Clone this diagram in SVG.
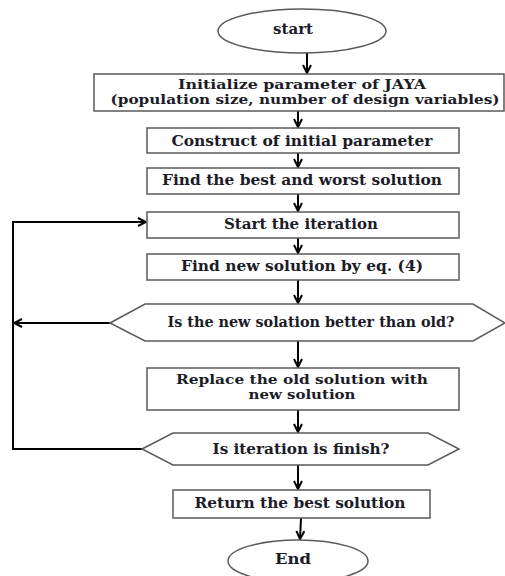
<svg xmlns="http://www.w3.org/2000/svg" width="505" height="576" viewBox="0 0 505 576">
<defs>
<style>
.shape{fill:#fff;stroke:#5a5a5a;stroke-width:1.5}
.t{font-family:"DejaVu Serif","Liberation Serif",serif;font-weight:bold;font-size:14px;fill:#1c1c28;text-anchor:middle}
.t2{font-size:12px}
.c{fill:none;stroke:#000;stroke-width:2}
</style>
<marker id="ah" viewBox="0 0 10 10" refX="9" refY="5" markerWidth="10" markerHeight="10" markerUnits="userSpaceOnUse" orient="auto">
<path d="M1,1 L9,5 L1,9" fill="none" stroke="#000" stroke-width="2"/>
</marker>
</defs>
<rect width="505" height="576" fill="#fff"/>
<g id="connectors">
<line class="c" x1="307" y1="53" x2="307" y2="73" marker-end="url(#ah)"/>
<line class="c" x1="298" y1="111" x2="298" y2="127" marker-end="url(#ah)"/>
<line class="c" x1="298" y1="153" x2="298" y2="167" marker-end="url(#ah)"/>
<line class="c" x1="298" y1="194" x2="298" y2="211" marker-end="url(#ah)"/>
<line class="c" x1="298" y1="238" x2="298" y2="253" marker-end="url(#ah)"/>
<line class="c" x1="298" y1="280" x2="298" y2="303" marker-end="url(#ah)"/>
<line class="c" x1="298" y1="341" x2="298" y2="367" marker-end="url(#ah)"/>
<line class="c" x1="298" y1="410" x2="298" y2="432" marker-end="url(#ah)"/>
<line class="c" x1="298" y1="465" x2="298" y2="489" marker-end="url(#ah)"/>
<line class="c" x1="301" y1="518" x2="300" y2="539" marker-end="url(#ah)"/>
<polyline class="c" points="142,449 13,449 13,222 146,222" marker-end="url(#ah)"/>
<line class="c" x1="110" y1="323" x2="14" y2="323" marker-end="url(#ah)"/>
</g>
<g id="start">
<ellipse class="shape" cx="302" cy="31" rx="84" ry="22"/>
<text class="t" x="293" y="34" textLength="40" lengthAdjust="spacingAndGlyphs">start</text>
</g>
<g id="init">
<rect class="shape" x="94" y="74" width="410" height="37"/>
<text class="t t2" x="302" y="89" textLength="248" lengthAdjust="spacingAndGlyphs">Initialize parameter of JAYA</text>
<text class="t t2" x="305" y="104" textLength="389" lengthAdjust="spacingAndGlyphs">(population size, number of design variables)</text>
</g>
<g id="construct">
<rect class="shape" x="147" y="128" width="312" height="25"/>
<text class="t" x="302" y="146" textLength="261" lengthAdjust="spacingAndGlyphs">Construct of initial  parameter</text>
</g>
<g id="findbest">
<rect class="shape" x="147" y="168" width="312" height="26"/>
<text class="t" x="302" y="185" textLength="280" lengthAdjust="spacingAndGlyphs">Find the best and worst solution</text>
</g>
<g id="startiter">
<rect class="shape" x="147" y="212" width="312" height="26"/>
<text class="t" x="301" y="229" textLength="154" lengthAdjust="spacingAndGlyphs">Start the iteration</text>
</g>
<g id="findnew">
<rect class="shape" x="147" y="254" width="312" height="26"/>
<text class="t" x="302" y="271" textLength="242" lengthAdjust="spacingAndGlyphs">Find new solution by eq. (4)</text>
</g>
<g id="decision1">
<polygon class="shape" points="110,323 145,304 473,304 505,323 473,341 145,341"/>
<text class="t" x="311" y="327" textLength="287" lengthAdjust="spacingAndGlyphs">Is the new solation better than old?</text>
</g>
<g id="replace">
<rect class="shape" x="147" y="368" width="312" height="42"/>
<text class="t t2" x="302" y="384" textLength="252" lengthAdjust="spacingAndGlyphs">Replace the old solution with</text>
<text class="t t2" x="302" y="399" textLength="107" lengthAdjust="spacingAndGlyphs">new solution</text>
</g>
<g id="decision2">
<polygon class="shape" points="142,449 173,433 428,433 459,449 428,465 173,465"/>
<text class="t" x="301" y="454" textLength="177" lengthAdjust="spacingAndGlyphs">Is iteration is finish?</text>
</g>
<g id="return">
<rect class="shape" x="173" y="490" width="257" height="28"/>
<text class="t" x="300" y="508" textLength="211" lengthAdjust="spacingAndGlyphs">Return the best solution</text>
</g>
<g id="end">
<ellipse class="shape" cx="298" cy="561" rx="70" ry="21"/>
<text class="t" x="293" y="564" textLength="36" lengthAdjust="spacingAndGlyphs">End</text>
</g>
</svg>
